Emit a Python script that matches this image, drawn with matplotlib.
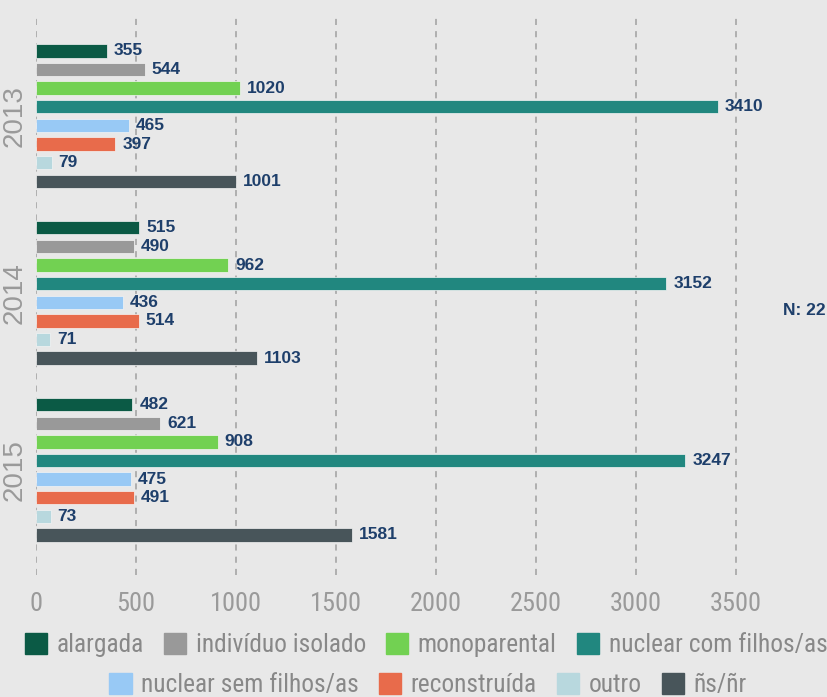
import matplotlib
matplotlib.use("Agg")
import matplotlib.pyplot as plt
from matplotlib.patches import Patch
from matplotlib import font_manager as fm

years = ["2013", "2014", "2015"]
categories = ["alargada", "indivíduo isolado", "monoparental", "nuclear com filhos/as",
              "nuclear sem filhos/as", "reconstruída", "outro", "ñs/ñr"]
colors = ["#0b5a45", "#999999", "#72d152", "#21877f",
          "#98c9f5", "#e86b4b", "#b8d8de", "#48555a"]
values = {
    "2013": [355, 544, 1020, 3410, 465, 397, 79, 1001],
    "2014": [515, 490, 962, 3152, 436, 514, 71, 1103],
    "2015": [482, 621, 908, 3247, 475, 491, 73, 1581],
}
xticks = [0, 500, 1000, 1500, 2000, 2500, 3000, 3500]
n_label = "N: 22"

available = {f.name for f in fm.fontManager.ttflist}
narrow = None
for cand in ["Liberation Sans Narrow", "DejaVu Sans Condensed", "Roboto Condensed", "Open Sans Condensed"]:
    if cand in available:
        narrow = cand
        break
if narrow is None:
    narrow = "Liberation Sans"

W, H = 828, 697
fig = plt.figure(figsize=(W / 100, H / 100), dpi=100)
bg = "#e8e8e8"
fig.patch.set_facecolor(bg)

left, right, top, bottom = 36, 828, 15, 575
ax = fig.add_axes([left / W, 1 - bottom / H, (right - left) / W, (bottom - top) / H])
ax.set_facecolor(bg)
xmax = (right - left) / 0.2
ax.set_xlim(0, xmax)

group_gap = 9.5
bar_h = 0.72
centers = [i * group_gap for i in range(len(years))]
ax.set_ylim(centers[-1] + 5.65, centers[0] - 5.43)

for gi, yr in enumerate(years):
    for j, (cat, col) in enumerate(zip(categories, colors)):
        y = centers[gi] + (j - 3.5)
        v = values[yr][j]
        ax.barh(y, v, height=bar_h, color=col, edgecolor="#f4f4f4", linewidth=0.5, zorder=3)
        ax.annotate(str(v), (v, y), xytext=(5, 0), textcoords="offset points",
                    va="center", ha="left", fontsize=12.5, fontweight="bold",
                    color="#1e3f6b", family="Liberation Sans", zorder=4)

for s in ax.spines.values():
    s.set_visible(False)
ax.set_xticks(xticks)
ax.set_xticklabels([str(t) for t in xticks], family=narrow, fontsize=19, color="#9a9a9a")
ax.tick_params(axis="x", length=0, pad=12)
ax.grid(axis="x", linestyle=(0, (4, 4)), color="#a0a0a0", linewidth=1.1, zorder=1)
ax.set_yticks(centers)
ax.set_yticklabels(years, rotation=90, va="center", family="Liberation Sans",
                   fontsize=20, color="#9a9a9a")
ax.tick_params(axis="y", length=0, pad=6)

fig.text(783 / W, 1 - 310 / H, n_label, fontsize=12.5, fontweight="bold",
         color="#1e3f6b", family="Liberation Sans", va="center", ha="left")

handles = [Patch(facecolor=c, edgecolor=c) for c in colors]
common = dict(frameon=False, prop={"family": narrow, "size": 18.3}, labelcolor="#888888",
              handlelength=0.88, handleheight=0.88, handletextpad=0.38, columnspacing=0.78,
              borderaxespad=0, borderpad=0)
leg1 = fig.legend(handles[:4], categories[:4], ncol=4, loc="center",
                  bbox_to_anchor=(426 / W, 1 - 645 / H), **common)
leg2 = fig.legend(handles[4:], categories[4:], ncol=4, loc="center",
                  bbox_to_anchor=(428 / W, 1 - 685 / H), **common)

fig.savefig("out.png", dpi=100, facecolor=bg)
